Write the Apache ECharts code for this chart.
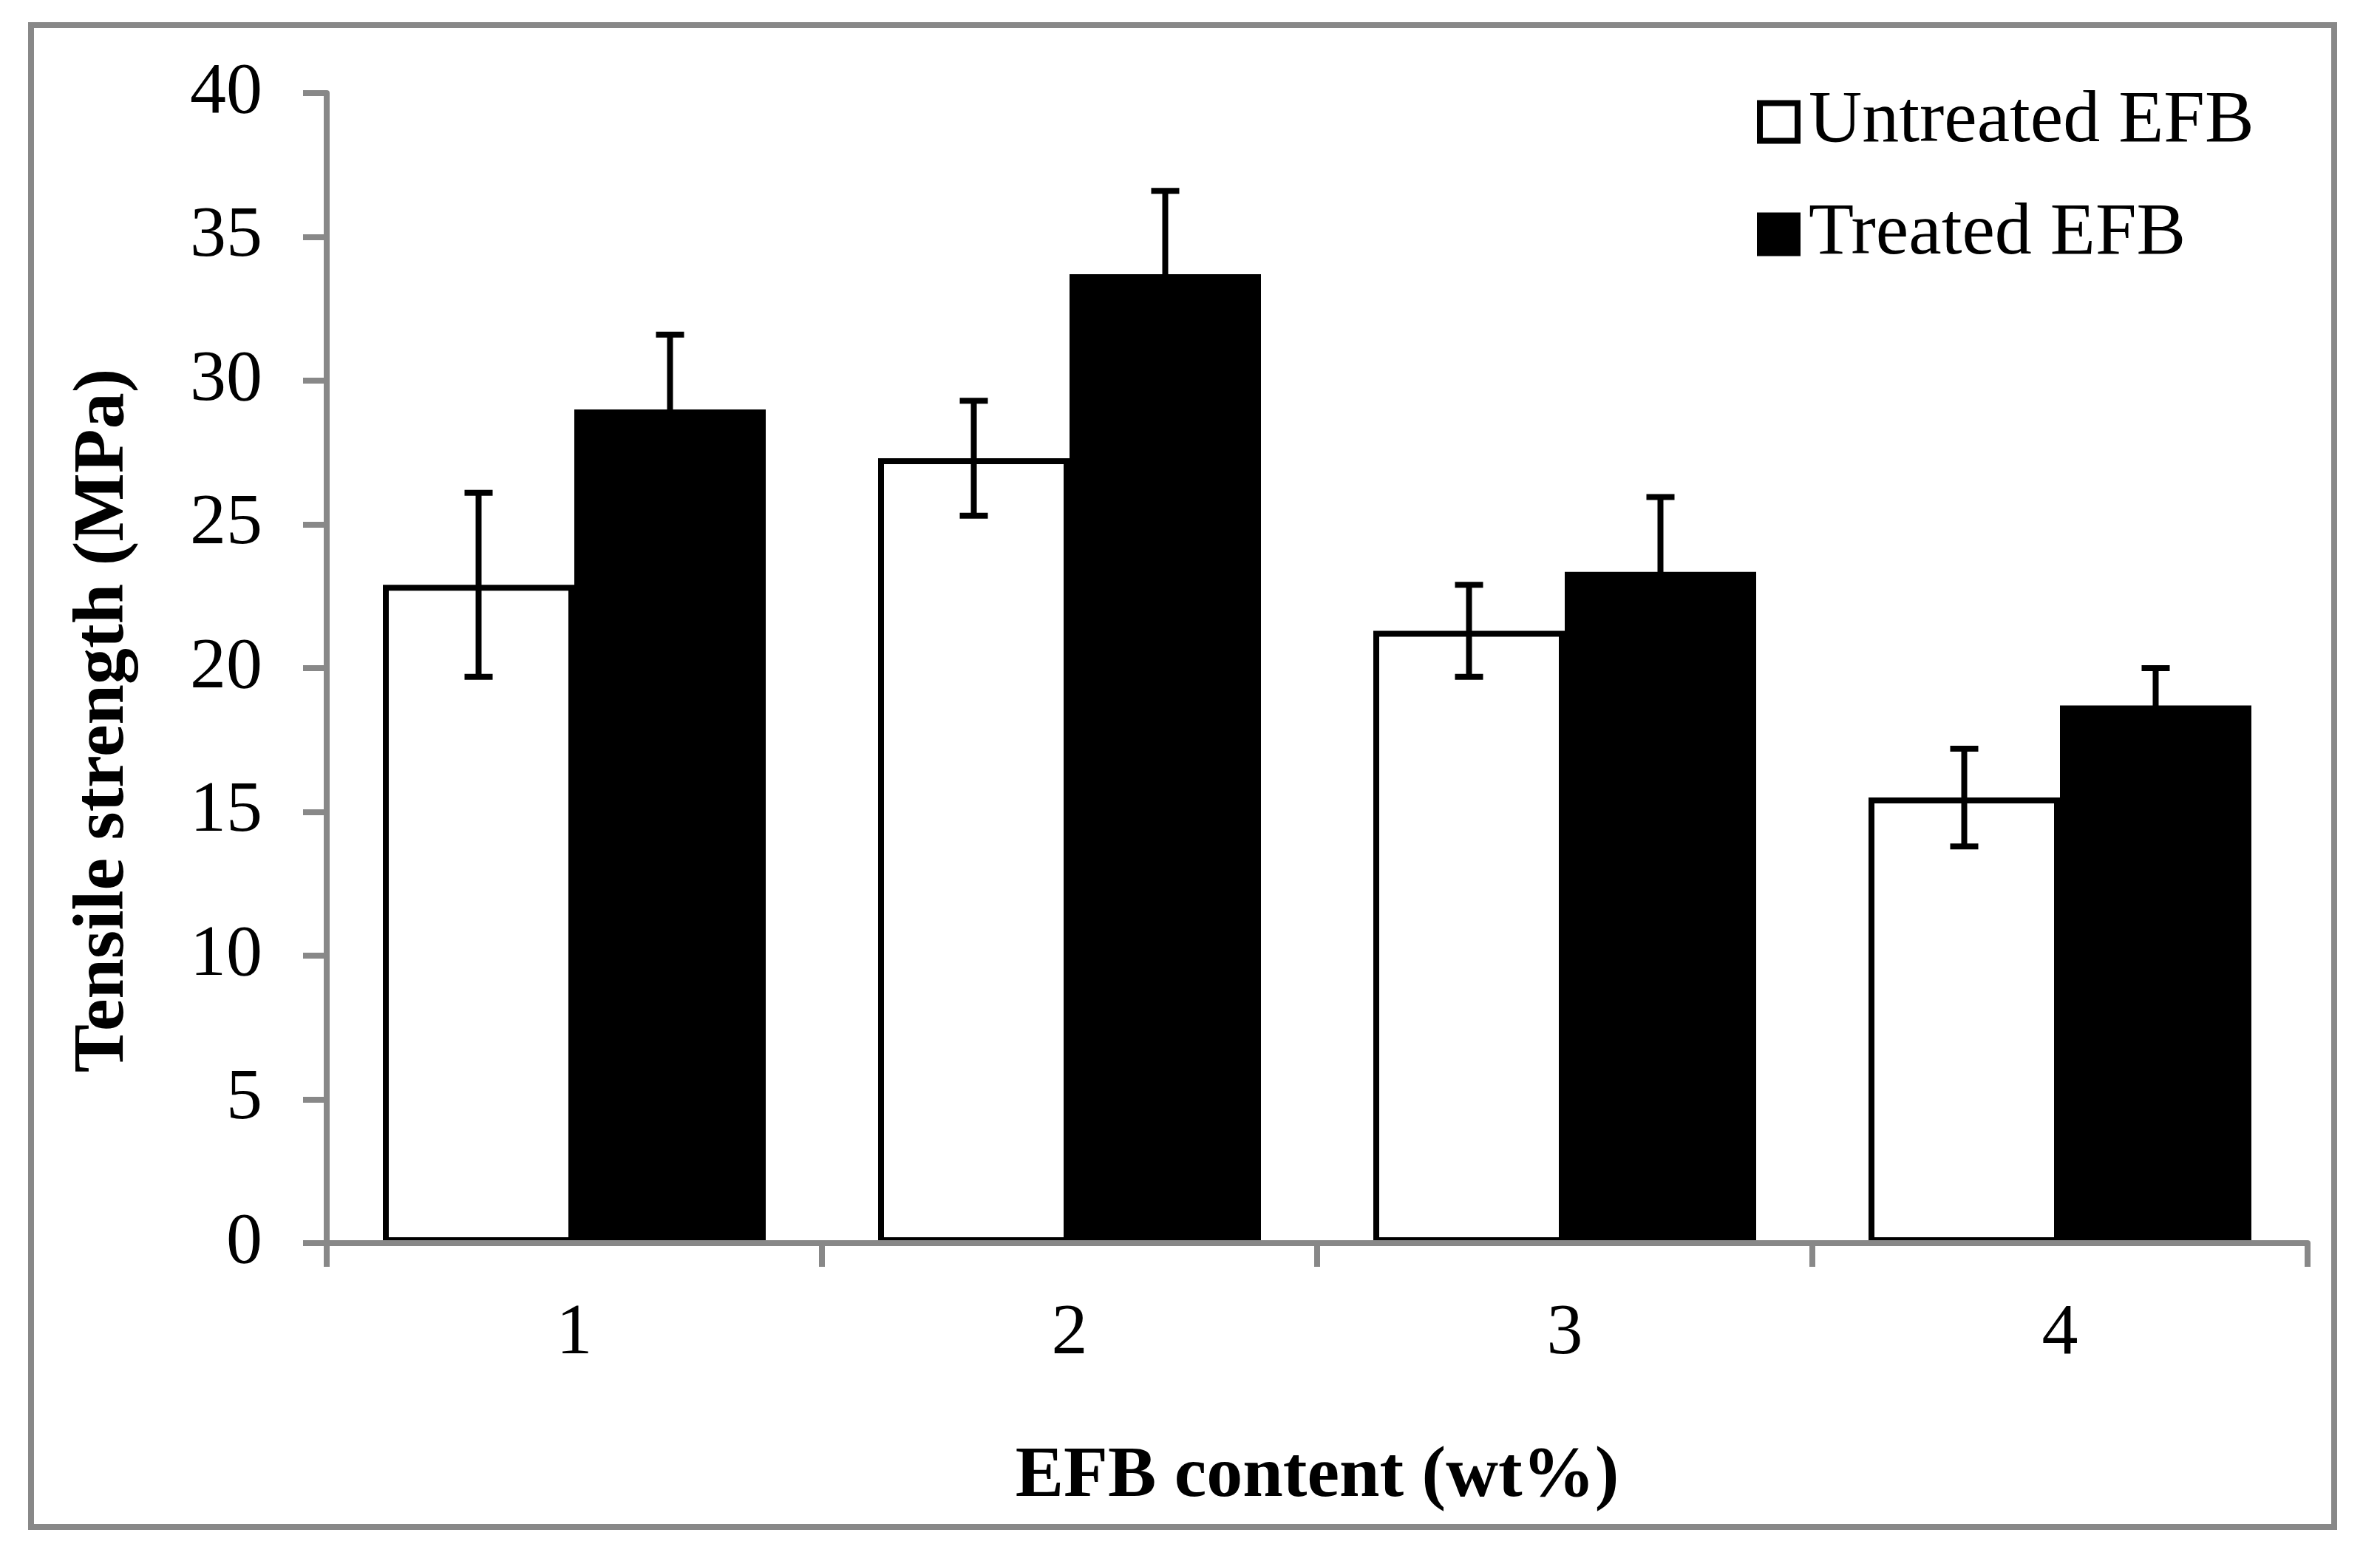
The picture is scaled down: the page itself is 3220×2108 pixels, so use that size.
<!DOCTYPE html>
<html><head><meta charset="utf-8">
<script src="https://cdn.jsdelivr.net/npm/echarts@6.0.0/dist/echarts.min.js"></script>
<style>html,body{margin:0;padding:0;background:#fff}#c{width:3220px;height:2108px}</style>
</head><body><div id="c"></div>
<script>
// ---- data ----
const categories = ['1', '2', '3', '4'];
const seriesNames = ['Untreated EFB', 'Treated EFB'];
const untreated = [22.9, 27.3, 21.3, 15.5];
const untreatedErr = [3.2, 2.0, 1.6, 1.7];
const treated = [29.0, 33.7, 23.35, 18.7];
const treatedErr = [2.6, 2.9, 2.6, 1.3];
const yMin = 0, yMax = 40, yInterval = 5;
const xTitle = 'EFB content (wt%)';
const yTitle = 'Tensile strength (MPa)';

// ---- style ----
const BAR_W = 259;
const CAP_W = 38;
const LW = 8;
const GRAY = '#888888';
const FONT = '"Liberation Serif", "Times New Roman", serif';

function errSeries(vals, errs, side) {
  return {
    type: 'custom',
    z: 5,
    silent: true,
    data: vals.map((v, i) => [i, v, errs[i]]),
    encode: { x: 0, y: 1 },
    renderItem(params, api) {
      const i = api.value(0), v = api.value(1), e = api.value(2);
      const c = api.coord([i, v]);
      const x = c[0] + side * BAR_W / 2;
      const top = api.coord([i, v + e])[1];
      const bot = api.coord([i, v - e])[1];
      const hw = CAP_W / 2;
      const st = { stroke: '#000', lineWidth: LW };
      return {
        type: 'group',
        children: [
          { type: 'line', shape: { x1: x, y1: top, x2: x, y2: bot }, style: st },
          { type: 'line', shape: { x1: x - hw, y1: top, x2: x + hw, y2: top }, style: st },
          { type: 'line', shape: { x1: x - hw, y1: bot, x2: x + hw, y2: bot }, style: st }
        ]
      };
    }
  };
}

const chart = echarts.init(document.getElementById('c'));
chart.setOption({
  animation: false,
  backgroundColor: '#fff',
  grid: { left: 442, right: 98, top: 126, bottom: 426, containLabel: false },
  graphic: [
    { type: 'rect', z: -1, shape: { x: 42, y: 34, width: 3116, height: 2032 },
      style: { fill: null, stroke: GRAY, lineWidth: LW } },
    { type: 'text', x: 141, y: 975, rotation: Math.PI / 2,
      style: { text: yTitle, fontSize: 98, fontWeight: 'bold', fontFamily: FONT,
               fill: '#000', align: 'center', verticalAlign: 'middle' } }
  ],
  legend: {
    orient: 'vertical',
    left: 2372, top: 110,
    itemWidth: 51, itemHeight: 51,
    itemGap: 52,
    selectedMode: false,
    textStyle: { fontSize: 100, fontFamily: FONT, color: '#000', padding: [0, 0, 0, 10] },
    data: [
      { name: seriesNames[0], icon: 'rect', itemStyle: { color: '#fff', borderColor: '#000', borderWidth: LW } },
      { name: seriesNames[1], icon: 'rect', itemStyle: { color: '#000', borderColor: '#000', borderWidth: LW } }
    ]
  },
  xAxis: {
    type: 'category',
    data: categories,
    z: 10,
    boundaryGap: true,
    axisLine: { lineStyle: { color: GRAY, width: LW } },
    axisTick: { show: true, alignWithLabel: false, length: 32, lineStyle: { color: GRAY, width: LW } },
    axisLabel: { fontSize: 98, fontFamily: FONT, color: '#000', margin: 74 },
    splitLine: { show: false },
    name: xTitle,
    nameLocation: 'middle',
    nameGap: 268,
    nameTextStyle: { fontSize: 98, fontWeight: 'bold', fontFamily: FONT, color: '#000' }
  },
  yAxis: {
    type: 'value',
    min: yMin, max: yMax, interval: yInterval,
    z: 10,
    axisLine: { show: true, lineStyle: { color: GRAY, width: LW } },
    axisTick: { show: true, length: 32, lineStyle: { color: GRAY, width: LW } },
    axisLabel: { fontSize: 98, fontFamily: FONT, color: '#000', margin: 87 },
    splitLine: { show: false }
  },
  series: [
    { name: seriesNames[0], type: 'bar', data: untreated, barWidth: BAR_W, barGap: '0%', z: 2,
      itemStyle: { color: '#fff', borderColor: '#000', borderWidth: LW } },
    { name: seriesNames[1], type: 'bar', data: treated, barWidth: BAR_W, barGap: '0%', z: 3,
      itemStyle: { color: '#000' } },
    errSeries(untreated, untreatedErr, -1),
    errSeries(treated, treatedErr, 1)
  ]
});
</script></body></html>
